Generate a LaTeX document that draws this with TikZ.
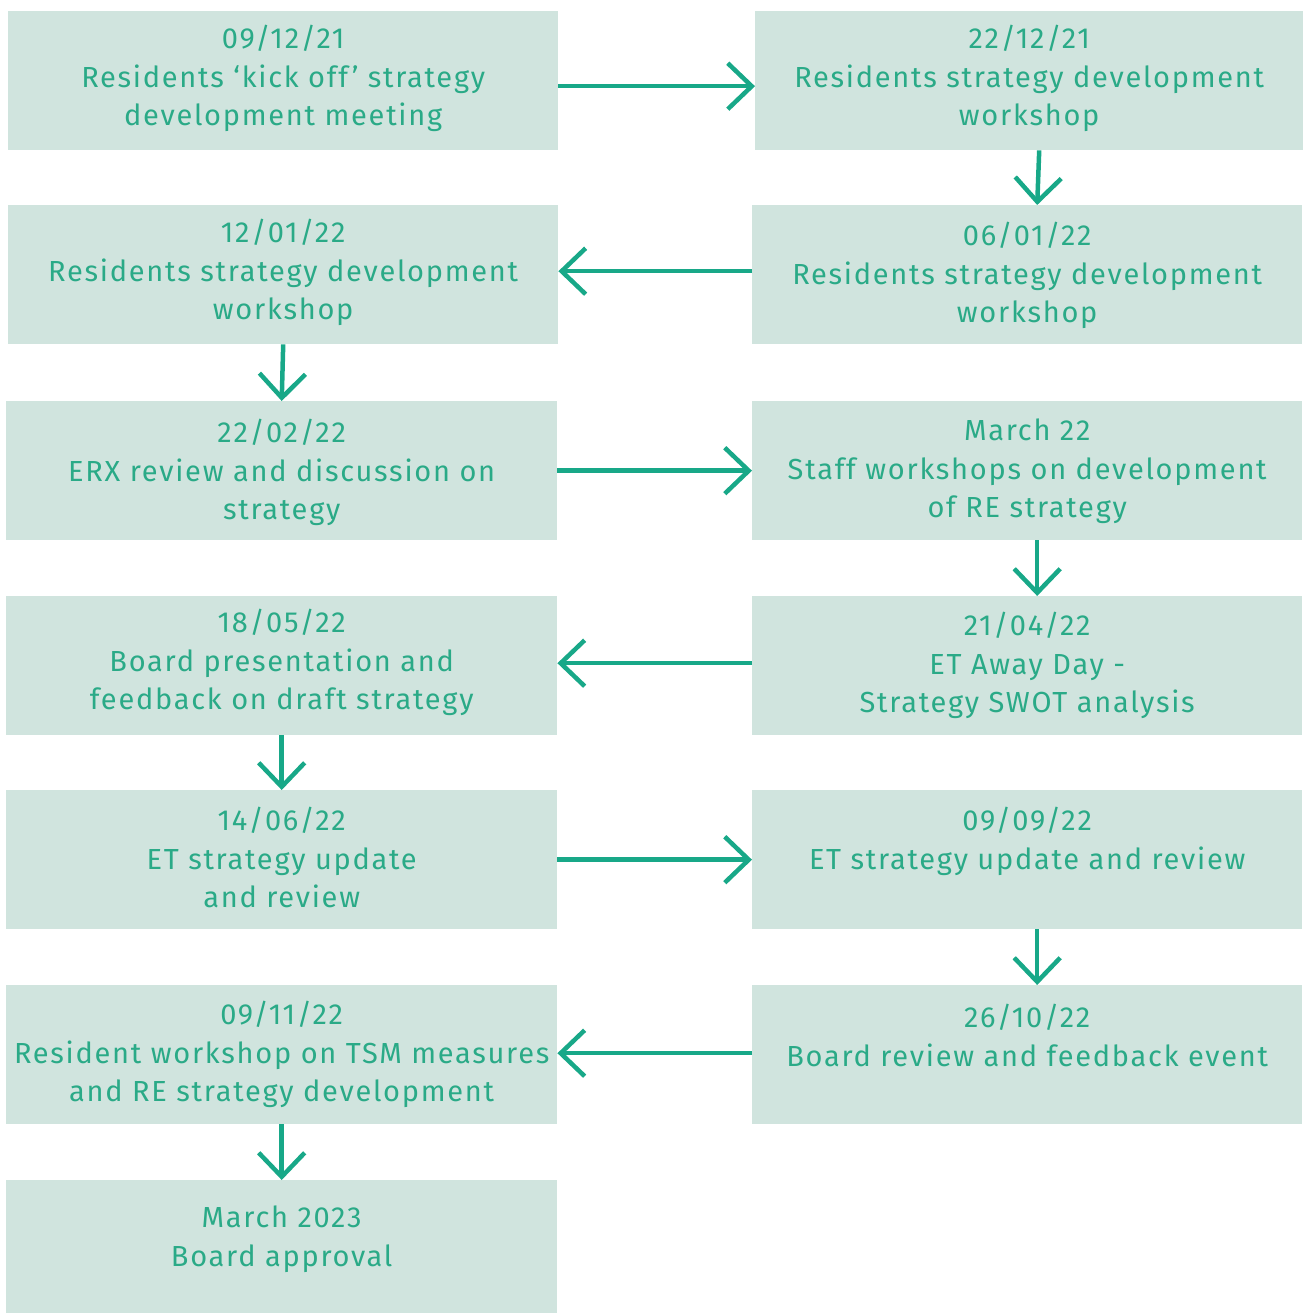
\documentclass[tikz,border=0pt]{standalone}
\usepackage{fontspec}
\setmainfont[LetterSpace=6]{Fira Sans}
\usetikzlibrary{arrows.meta}
\definecolor{boxfill}{RGB}{208,228,222}
\definecolor{flowgreen}{RGB}{24,168,136}
\definecolor{txtgreen}{RGB}{42,170,135}
\tikzset{
  stage/.style={rectangle, fill=boxfill, inner sep=0pt, anchor=north west,
    minimum width=550pt, minimum height=139pt},
  stagetext/.style={anchor=north, inner sep=0pt, align=center, text=txtgreen,
    font=\fontsize{29}{38.5}\selectfont},
  flow/.style={draw=flowgreen, line width=4.5pt,
    -{Straight Barb[length=24pt,width=46pt,line width=4.5pt]}}
}
\begin{document}
\begin{tikzpicture}[x=1pt,y=-1pt]
\useasboundingbox (0,0) rectangle (1303,1313);
% boxes, left column and right column
\node[stage] (l1) at (8,11) {};
\node[stage, minimum width=548pt] (r1) at (755,11) {};
\node[stage] (l2) at (8,205) {};
\node[stage] (r2) at (752,205) {};
\node[stage, minimum width=551pt] (l3) at (6,401) {};
\node[stage] (r3) at (752,401) {};
\node[stage, minimum width=551pt] (l4) at (6,596) {};
\node[stage] (r4) at (752,596) {};
\node[stage, minimum width=551pt] (l5) at (6,790) {};
\node[stage] (r5) at (752,790) {};
\node[stage, minimum width=551pt] (l6) at (6,985) {};
\node[stage] (r6) at (752,985) {};
\node[stage, minimum width=551pt, minimum height=133pt] (l7) at (6,1180) {};
% captions
\node[stagetext] (tl1) at ([yshift=-14pt]l1.north) {09/12/21\\Residents ‘kick off’ strategy\\development meeting};
\node[stagetext] (tr1) at ([yshift=-14pt]r1.north) {22/12/21\\Residents strategy development\\workshop};
\node[stagetext] (tl2) at ([yshift=-14pt]l2.north) {12/01/22\\Residents strategy development\\workshop};
\node[stagetext] (tr2) at ([yshift=-17pt]r2.north) {06/01/22\\Residents strategy development\\workshop};
\node[stagetext] (tl3) at ([yshift=-18pt]l3.north) {22/02/22\\ERX review and discussion on\\strategy};
\node[stagetext] (tr3) at ([yshift=-18pt]r3.north) {March 22\\Staff workshops on development\\of RE strategy};
\node[stagetext] (tl4) at ([yshift=-13pt]l4.north) {18/05/22\\Board presentation and\\feedback on draft strategy};
\node[stagetext] (tr4) at ([yshift=-16pt]r4.north) {21/04/22\\ET Away Day -\\Strategy SWOT analysis};
\node[stagetext] (tl5) at ([yshift=-17pt]l5.north) {14/06/22\\ET strategy update\\and review};
\node[stagetext] (tr5) at ([yshift=-17pt]r5.north) {09/09/22\\ET strategy update and review};
\node[stagetext] (tl6) at ([yshift=-16pt]l6.north) {09/11/22\\Resident workshop on TSM measures\\and RE strategy development};
\node[stagetext] (tr6) at ([yshift=-19pt]r6.north) {26/10/22\\Board review and feedback event};
\node[stagetext] (tl7) at ([yshift=-26pt]l7.north) {March 2023\\Board approval};
% connectors
\draw[flow] ([yshift=-5.5pt]l1.east) -- ([yshift=-5.5pt]r1.west);
\draw[flow] ([xshift=10pt]r1.south) -- ([xshift=10pt]r2.north);
\draw[flow] ([yshift=3.5pt]r2.west) -- ([yshift=3.5pt]l2.east);
\draw[flow] (l2.south) -- (l3.north);
\draw[flow] (l3.east) -- (r3.west);
\draw[flow] ([xshift=10pt]r3.south) -- ([xshift=10pt]r4.north);
\draw[flow] ([yshift=2.5pt]r4.west) -- ([yshift=2.5pt]l4.east);
\draw[flow] (l4.south) -- (l5.north);
\draw[flow] (l5.east) -- (r5.west);
\draw[flow] ([xshift=10pt]r5.south) -- ([xshift=10pt]r6.north);
\draw[flow] ([yshift=1.5pt]r6.west) -- ([yshift=1.5pt]l6.east);
\draw[flow] (l6.south) -- (l7.north);
\end{tikzpicture}
\end{document}
